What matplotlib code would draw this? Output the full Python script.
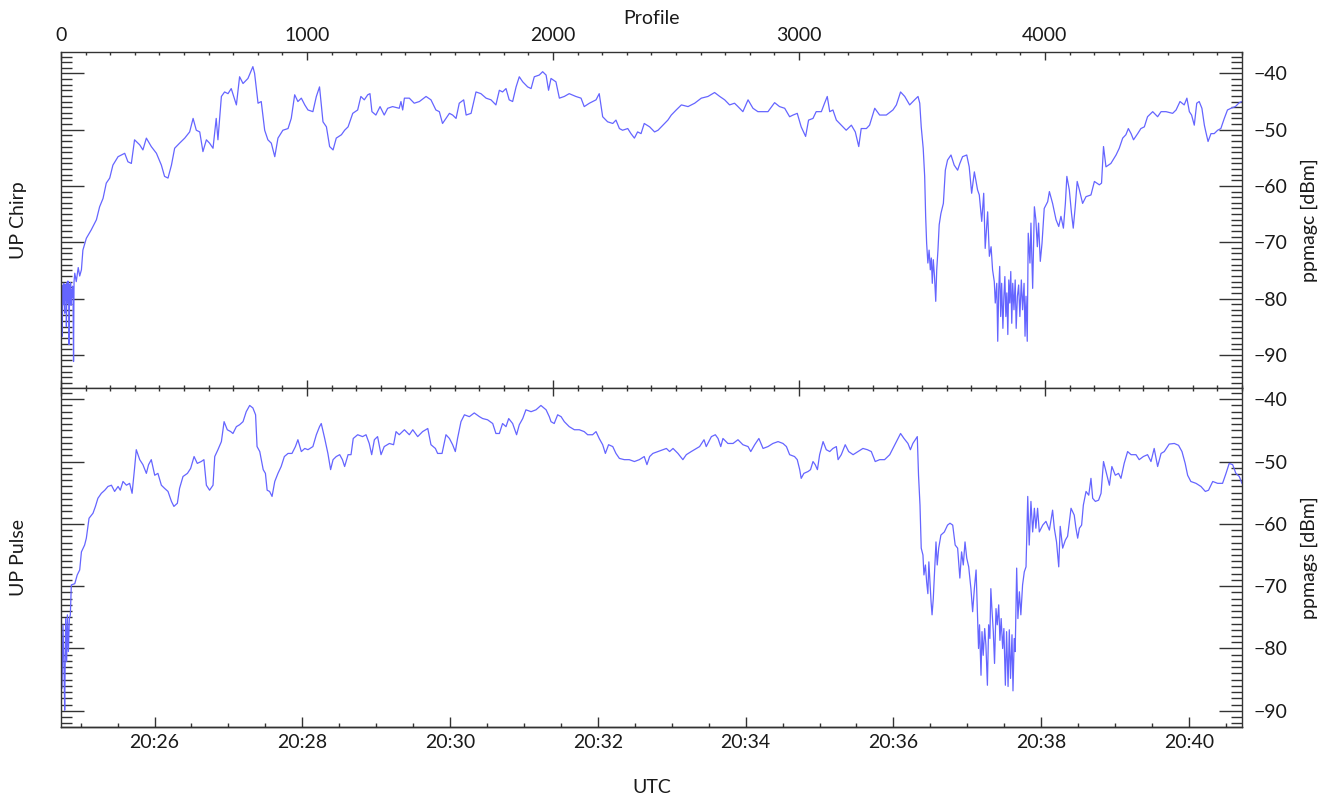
import matplotlib
matplotlib.use("Agg")
import matplotlib.pyplot as plt
from matplotlib.ticker import MultipleLocator, FuncFormatter

plt.rcParams['font.family'] = ['Lato', 'DejaVu Sans']
plt.rcParams['font.weight'] = 'normal'

# ---------------- data ----------------
chirp_profile = [0, 2, 4, 5, 7, 9, 11, 13, 15, 17, 19, 21, 22, 24, 26, 28, 30, 32, 33, 35,
                 37, 39, 41, 43, 45, 47, 49, 51, 53, 56, 62, 70, 76, 83,
                 89, 103, 123, 144, 157, 171, 184, 198, 211, 232, 259, 272, 286, 299, 320, 333,
                 347, 367, 388, 408, 421, 435, 449, 462, 482, 503, 523, 537, 550, 564, 577, 591,
                 604, 618, 631, 638, 652, 665, 679, 692, 713, 726, 740, 760, 780, 787, 801, 814,
                 828, 841, 855, 869, 882, 902, 923, 936, 950, 963, 977, 991, 1004, 1024, 1038,
                 1051, 1065, 1079, 1092, 1106, 1119, 1140, 1153, 1167,
                 1186, 1206, 1219, 1233, 1247, 1256, 1264, 1280, 1297, 1314, 1328, 1348, 1375,
                 1382, 1389, 1396, 1416, 1436, 1457, 1484, 1504, 1524, 1538, 1551, 1565, 1579,
                 1592, 1606, 1619, 1637, 1647, 1667, 1687, 1707, 1728, 1748, 1768, 1782, 1795,
                 1809, 1822, 1836, 1850, 1863, 1877, 1897, 1911, 1924, 1944, 1958, 1972, 1982,
                 1992, 2012, 2026, 2046, 2066, 2093, 2114, 2127, 2148, 2175, 2188, 2202, 2222,
                 2243, 2256, 2270, 2283, 2304, 2317, 2331, 2344, 2358, 2371,
                 2393, 2413, 2427, 2447, 2467, 2481, 2501, 2522, 2549, 2576, 2603, 2630, 2657,
                 2678, 2698, 2718, 2738, 2752, 2772, 2793, 2813, 2833, 2854, 2874, 2901, 2921,
                 2942, 2962, 2976, 2993, 3009, 3027, 3039, 3057, 3070, 3091, 3104, 3115, 3125,
                 3138, 3152, 3172, 3192, 3213, 3229, 3243, 3253, 3274, 3287, 3308, 3328, 3355,
                 3382, 3396, 3413, 3430, 3450, 3470, 3484, 3491, 3497, 3505, 3511, 3515, 3519,
                 3524, 3529, 3534, 3538, 3542, 3546, 3551, 3556, 3560, 3565,
                 3570, 3577, 3587, 3595, 3604, 3618, 3631, 3645, 3654, 3665, 3682, 3692, 3702,
                 3713, 3726, 3733, 3743, 3751, 3757, 3767, 3774, 3781, 3787, 3794, 3798, 3804,
                 3808, 3812, 3816, 3820, 3824, 3829, 3833, 3837, 3841, 3845, 3849, 3853, 3857,
                 3861, 3865, 3869, 3874, 3879, 3883, 3888, 3893, 3898, 3904, 3909, 3915, 3919,
                 3923, 3928, 3932, 3939, 3943, 3950, 3957, 3963, 3969, 3974, 3981, 3988, 3997,
                 4011, 4018, 4031, 4045, 4056, 4065, 4075, 4083, 4089, 4099, 4108, 4115, 4123,
                 4131, 4140, 4153, 4167, 4187, 4201, 4221, 4230, 4238, 4248, 4268, 4289, 4302,
                 4316, 4329, 4339, 4350, 4360, 4377, 4390, 4404, 4417, 4438, 4458, 4472, 4492,
                 4519, 4533, 4549, 4566, 4577, 4587, 4596, 4607, 4617, 4627, 4638, 4648, 4654,
                 4663, 4675, 4688, 4702, 4715, 4729, 4742, 4756, 4774, 4790, 4801]
chirp_dbm = [-77.2, -80.8, -77.6, -86.7, -78.0, -81.0, -77.3, -80.5, -82.6, -77.5, -80.2, -78.0,
             -85.0, -77.2, -80.6, -76.9, -81.0, -77.4, -88.2, -78.0, -80.4, -77.2, -81.2, -78.5,
             -79.8, -77.8, -80.0, -91.2, -77.0, -75.5, -77.0, -74.5, -76.0, -74.9,
             -71.4, -69.3, -67.8, -66.0, -63.7, -62.2, -59.5, -58.6, -56.3, -54.8, -54.2, -55.7,
             -56.0, -51.8, -52.7, -53.6, -51.5, -53.0, -54.2, -56.3, -58.3, -58.6, -56.3, -53.3,
             -52.4, -51.5, -50.4, -48.0, -50.1, -50.4, -53.9, -51.8, -52.4, -53.3, -48.0, -51.8,
             -44.1, -43.3, -43.6, -42.7, -45.6, -40.6, -41.8, -40.9, -38.8, -40.0, -45.3, -45.0,
             -50.1, -51.8, -52.4, -54.8, -51.5, -50.1, -49.8, -48.0, -43.8, -45.0, -44.4, -45.6,
             -46.5, -46.8, -44.1, -42.4, -48.6, -49.5, -53.0, -53.6, -51.5, -50.9, -50.1, -49.5,
             -47.1, -46.5, -44.1, -44.7, -43.8, -43.6, -46.8, -47.4, -45.9, -47.4, -46.2, -45.9,
             -46.2, -45.0, -46.5, -44.4, -44.4, -45.3, -45.0, -44.1, -44.7, -46.5, -46.8, -48.9,
             -48.0, -47.1, -47.4, -48.0, -45.3, -44.7, -47.4, -47.1, -43.3, -43.6, -44.4, -44.7,
             -45.6, -43.0, -43.3, -42.7, -44.7, -45.0, -42.4, -40.6, -41.5, -42.4, -42.7, -40.6,
             -40.3, -39.7, -40.3, -43.0, -40.9, -41.5, -44.4, -44.1, -43.6, -44.1, -44.4, -45.9,
             -45.3, -44.7, -43.6, -47.7, -48.6, -48.9, -48.3, -49.8, -50.1, -49.8, -50.7, -51.5,
             -50.4, -50.7, -48.9,
             -49.5, -50.4, -50.1, -49.2, -48.3, -47.4, -46.5, -45.6, -45.9, -45.3, -44.4, -44.1,
             -43.4, -44.1, -44.7, -45.6, -45.3, -45.9, -46.8, -44.7, -46.2, -46.8, -46.8, -46.8,
             -45.2, -45.9, -46.2, -47.7, -47.4, -47.1, -49.5, -51.2, -48.3, -48.0, -46.8, -46.8,
             -45.3, -44.1, -46.8, -46.5, -48.3, -49.2, -50.1, -49.2, -50.4, -53.0, -49.8, -49.8,
             -49.2, -46.2, -47.4, -47.4, -46.5, -45.6, -43.3, -44.1, -45.6, -44.7, -44.1, -45.3,
             -49.5, -53.3, -58.3, -65.4, -70.2, -73.7, -71.4, -74.9, -72.8, -77.3, -73.1, -76.1,
             -80.5, -74.9, -71.4,
             -66.9, -64.9, -63.1, -57.2, -55.4, -54.5, -56.3, -57.2, -56.0, -54.8, -54.5, -56.6,
             -61.3, -57.5, -60.7, -61.6, -66.3, -61.3, -71.1, -64.6, -72.5, -70.8, -74.9, -77.0,
             -80.8, -77.3, -87.6, -78.5, -74.3, -83.2, -77.3, -85.3, -79.6, -76.1, -83.2, -79.0,
             -86.4, -76.7, -80.8, -75.2, -84.4, -77.3, -82.0, -76.7, -85.3, -79.6, -77.6, -83.2,
             -76.7, -82.0, -77.3, -86.7, -79.6, -87.6, -68.4, -73.7, -66.6, -78.2, -63.7, -66.0,
             -70.8, -66.6, -73.4, -70.2, -64.0, -62.8, -61.0, -63.1, -66.0, -67.2, -65.4, -67.5,
             -63.1, -58.3, -60.7, -64.9, -67.5, -63.7, -59.2, -60.7, -63.1, -61.9, -61.6, -59.2,
             -59.8, -59.5, -53.0, -56.6, -56.0, -54.5, -53.3, -51.5, -50.9, -49.8, -50.7, -51.8,
             -50.7, -49.8, -49.5, -47.7, -46.8, -47.7, -46.8, -46.8, -47.1, -46.5, -45.0, -45.6,
             -44.4, -46.8, -47.4, -49.2, -45.3, -45.0, -46.2, -49.2, -50.4, -52.1, -50.7, -50.7,
             -50.1, -49.8, -48.0, -46.5, -46.2, -45.9, -45.2, -45.0]

pulse_profile = [0, 4, 8, 12, 15, 19, 23, 26, 30, 34, 38, 42,
                 56, 66, 76, 83, 96, 103, 114, 130, 140, 150, 164, 178, 191, 205, 218, 232, 241,
                 252, 266, 279, 289, 299, 306, 320, 333, 347, 356, 367, 381, 394, 408, 421, 435,
                 449, 459, 473, 482, 496, 514, 527, 541, 554, 570, 581, 591, 604, 618, 625, 638,
                 652, 663, 676, 690, 699, 713, 726, 740, 753, 767, 780, 791, 797, 808, 822, 831,
                 838, 848, 858, 869, 882, 895, 908, 923, 939, 953, 963, 977, 991, 1004, 1024,
                 1038, 1051, 1058, 1072, 1085, 1096, 1106, 1119, 1133, 1144, 1153, 1167,
                 1179, 1188, 1206, 1226, 1240, 1253, 1263, 1274, 1287, 1301, 1314, 1335, 1352,
                 1362, 1375, 1396, 1416, 1430, 1450, 1470, 1491, 1504, 1522, 1531, 1549, 1565,
                 1579, 1592, 1603, 1612, 1626, 1640, 1660, 1680, 1701, 1714, 1734, 1755, 1768,
                 1782, 1795, 1809, 1820, 1836, 1852, 1863, 1877, 1890, 1911, 1931, 1951, 1972,
                 1985, 1992, 2005, 2019, 2033, 2046, 2066, 2087, 2107, 2127, 2141, 2161, 2175,
                 2188, 2202, 2213, 2226, 2243, 2256, 2270, 2290, 2310, 2331, 2351, 2371, 2382,
                 2393, 2406, 2427, 2447, 2461, 2474, 2488, 2508, 2528, 2542, 2562, 2583, 2596,
                 2614, 2623, 2644, 2660, 2671, 2682, 2691, 2711, 2732, 2752, 2772, 2793, 2804,
                 2820, 2837, 2854, 2874, 2894, 2915, 2935, 2949, 2962, 2982, 2993, 3003, 3009,
                 3020, 3037, 3047, 3057, 3066, 3075, 3084, 3098, 3111, 3125, 3138, 3152, 3159,
                 3172, 3188, 3202, 3220, 3240, 3260, 3278, 3294, 3310, 3328, 3348, 3369, 3382,
                 3396, 3413, 3427, 3443, 3453, 3463, 3473, 3481, 3486, 3492, 3497, 3504, 3508,
                 3514, 3519, 3524, 3528, 3533, 3537, 3541, 3546, 3551, 3557, 3562, 3568,
                 3577, 3591, 3604, 3614, 3625, 3635, 3645, 3654, 3661, 3668, 3675, 3682, 3690,
                 3699, 3706, 3713, 3720, 3726, 3730, 3734, 3740, 3744, 3749, 3755, 3760, 3766,
                 3771, 3776, 3780, 3785, 3790, 3795, 3801, 3806, 3812, 3817, 3822, 3828, 3833,
                 3839, 3844, 3850, 3855, 3860, 3866, 3870, 3875, 3879, 3885, 3890, 3896, 3902,
                 3909, 3916, 3923, 3930, 3936, 3943, 3950, 3957, 3963, 3970, 3977, 3991, 4004,
                 4018, 4031, 4038, 4047, 4056, 4062, 4072, 4083, 4092, 4106, 4119, 4126, 4133,
                 4140, 4149, 4156, 4167, 4178, 4187, 4194, 4205, 4218, 4228, 4238, 4248, 4262,
                 4272, 4286, 4299, 4309, 4322, 4336, 4350, 4370, 4383, 4400, 4417, 4431, 4444,
                 4458, 4472, 4485, 4505, 4526, 4543, 4557, 4570, 4580, 4593, 4614, 4634, 4652,
                 4665, 4682, 4702, 4722, 4736, 4749, 4763, 4776, 4790, 4801]
pulse_dbm = [-78.9, -86.4, -76.2, -82.9, -89.9, -75.2, -82.1, -74.6, -80.5, -75.2, -74.6, -69.8,
             -69.6, -68.2, -67.4, -64.5, -63.4, -62.3, -59.1, -58.3, -57.2, -55.9, -55.1, -54.6,
             -54.0, -53.8, -54.8, -54.0, -54.6, -53.2, -53.8, -53.5, -55.1, -51.1, -48.1, -49.7,
             -50.5, -51.9, -50.5, -49.7, -52.2, -51.9, -53.8, -54.3, -54.8, -56.4, -57.2, -56.7,
             -54.3, -52.4, -51.9, -51.1, -49.2, -50.3, -50.0, -49.7, -53.8, -54.6, -53.8, -49.2,
             -48.1, -46.8, -43.6, -44.9, -45.2, -45.5, -44.4, -44.1, -43.6, -42.0, -41.0, -41.4,
             -42.5, -47.6, -48.4, -51.3, -51.9, -54.6, -54.8, -55.6, -53.2, -51.9, -50.8, -49.2,
             -48.7, -48.7, -47.6, -46.5, -48.4, -47.9, -48.1, -47.6, -45.7, -44.4, -43.9, -46.3,
             -48.7, -51.3, -49.7, -49.2, -48.9, -49.7, -50.8, -48.9,
             -48.9, -46.3, -45.7, -46.0, -45.7, -47.1, -48.9, -46.5, -46.0, -48.9, -47.6, -47.1,
             -47.3, -45.2, -45.7, -44.9, -45.7, -44.9, -46.0, -45.2, -44.7, -47.3, -47.9, -48.7,
             -48.7, -45.7, -46.3, -47.3, -48.4, -46.3, -43.6, -42.5, -42.8, -42.2, -42.8, -43.1,
             -43.3, -43.9, -45.5, -45.5, -43.9, -44.4, -43.1, -43.9, -45.7, -44.1, -43.1, -41.7,
             -42.0, -41.7, -41.0, -41.7, -42.8, -43.6, -43.9, -42.5, -42.8, -43.6, -44.4, -44.9,
             -44.9, -45.2, -45.7, -45.7, -45.2, -46.3, -47.3, -48.7, -47.3, -47.6, -48.7, -49.5,
             -49.7, -49.7, -50.0, -49.7, -49.2, -50.5,
             -49.2, -48.7, -48.4, -48.1, -47.9, -48.4, -47.9, -48.7, -49.7, -48.9, -48.4, -47.9,
             -47.6, -46.5, -47.6, -46.0, -45.7, -46.3, -47.6, -46.3, -47.1, -47.1, -46.5, -47.3,
             -47.6, -48.4, -47.3, -46.3, -47.9, -47.6, -47.1, -46.8, -47.1, -47.6, -48.9, -49.2,
             -49.7, -51.3, -52.7, -51.9, -51.6, -51.3, -50.0, -50.5, -51.3, -48.9, -46.8, -48.1,
             -48.4, -47.9, -47.6, -49.7, -48.9, -47.3, -48.4, -48.9, -48.4, -47.9, -48.1, -48.4,
             -50.0, -49.7, -49.7, -48.9, -47.9, -46.8, -45.5, -46.3, -47.1, -48.1, -47.1, -46.5,
             -46.0, -52.2, -57.0, -63.9, -65.0, -68.2, -66.6, -69.3, -71.2, -66.1, -69.8, -72.5,
             -74.6, -72.0, -67.7, -62.9, -66.6, -63.9,
             -61.8, -61.3, -60.2, -59.9, -60.2, -63.4, -63.9, -68.7, -64.5, -66.6, -62.9, -65.5,
             -66.9, -70.4, -74.1, -70.4, -67.4, -75.2, -80.0, -76.2, -84.3, -77.3, -81.1, -76.8,
             -79.5, -85.9, -76.2, -78.4, -70.4, -74.1, -77.3, -82.4, -73.6, -76.2, -73.0, -78.7,
             -75.2, -80.0, -76.8, -85.9, -77.3, -86.1, -77.0, -84.8, -77.8, -86.8, -78.4, -80.5,
             -67.1, -75.2, -70.9, -74.6, -69.8, -67.7, -66.9, -55.6, -63.4, -56.4, -61.3, -57.5,
             -60.7, -57.5, -61.3, -60.2, -59.6, -61.0, -57.8, -60.7, -62.9, -66.9, -60.4, -63.9,
             -62.6, -62.0, -57.5, -58.6, -60.7, -62.3, -60.7, -60.2, -57.0, -54.8, -55.4, -52.7,
             -55.9, -56.4, -56.2, -55.1, -50.0, -51.6, -53.8, -50.8, -52.2, -51.9, -52.7, -50.3,
             -48.4, -48.9, -48.9, -49.7, -49.2, -48.9, -50.0, -47.9, -50.8, -48.7, -48.4, -47.2,
             -47.1, -47.4, -48.4, -50.3, -52.2, -53.2, -53.5, -54.0, -54.8, -54.6, -53.2, -53.5,
             -53.5, -51.9, -50.3, -50.5, -51.9, -52.4, -53.5]

profile_ticks = [0, 1000, 2000, 3000, 4000]
time_ticks_min = [26, 28, 30, 32, 34, 36, 38, 40]   # minutes after 20:00
time_hour = 20
start_minute = 24.7346          # time of profile 0 (minutes after 20:00)
minutes_per_profile = 0.003329

x_max = 4801
ylim_top = (-95.9, -36.2)
ylim_bot = (-92.6, -38.2)

LINE_COLOR = '#6565ff'
TXT = '#1a1a1a'
FS = 14

fig = plt.figure(figsize=(13.35, 7.95), dpi=100)
left, width = 61 / 1335, (1242 - 61) / 1335
ax1 = fig.add_axes([left, (795 - 388) / 795, width, (388 - 52) / 795])
ax2 = fig.add_axes([left, (795 - 727) / 795, width, (727 - 388) / 795])

ax1.plot(chirp_profile, chirp_dbm, color=LINE_COLOR, lw=0.9)
ax2.plot(pulse_profile, pulse_dbm, color=LINE_COLOR, lw=0.9)

for ax, yl in ((ax1, ylim_top), (ax2, ylim_bot)):
    ax.set_xlim(0, x_max)
    ax.set_ylim(*yl)
    ax.xaxis.set_major_locator(MultipleLocator(1000))
    ax.xaxis.set_minor_locator(MultipleLocator(100))
    ax.yaxis.set_major_locator(MultipleLocator(10))
    ax.yaxis.set_minor_locator(MultipleLocator(1))
    ax.yaxis.set_label_position('right')
    ax.tick_params(axis='y', which='both', direction='in', left=True, right=True,
                   labelleft=False, labelright=True, labelsize=FS, labelcolor=TXT,
                   color='#333333', pad=8)
    ax.tick_params(axis='y', which='major', length=16.5, width=1.0)
    ax.tick_params(axis='y', which='minor', length=8, width=1.0)
    for s in ax.spines.values():
        s.set_linewidth(1.0)
        s.set_color('#333333')

ax1.tick_params(axis='x', which='both', direction='in', top=True, bottom=True,
                labeltop=True, labelbottom=False, labelsize=FS, labelcolor=TXT,
                color='#333333', pad=6)
ax1.tick_params(axis='x', which='major', length=5.5, width=1.0)
ax1.tick_params(axis='x', which='minor', length=2.5, width=1.0)
ax1.set_xticks(profile_ticks)
ax1.xaxis.set_label_position('top')
ax1.set_xlabel('Profile', fontsize=FS, color=TXT, labelpad=2)

ax2.tick_params(axis='x', which='both', direction='in', top=True, bottom=False,
                labeltop=False, labelbottom=False, color='#333333')
ax2.tick_params(axis='x', which='major', length=5.5, width=1.0)
ax2.tick_params(axis='x', which='minor', length=2.5, width=1.0)


def p2m(p):
    return start_minute + p * minutes_per_profile


def m2p(m):
    return (m - start_minute) / minutes_per_profile


sec = ax2.secondary_xaxis('bottom', functions=(p2m, m2p))
sec.set_xticks(time_ticks_min)
sec.xaxis.set_minor_locator(MultipleLocator(0.5))
sec.xaxis.set_major_formatter(FuncFormatter(lambda m, _: f"{time_hour}:{int(round(m)):02d}"))
sec.tick_params(axis='x', which='both', direction='in', labelsize=FS, labelcolor=TXT,
                color='#333333', pad=5)
sec.tick_params(axis='x', which='major', length=7.5, width=1.0)
sec.tick_params(axis='x', which='minor', length=3, width=1.0)
sec.spines['bottom'].set_linewidth(1.0)
sec.set_xlabel('UTC', fontsize=FS, color=TXT, labelpad=20)

ax1.set_ylabel('ppmagc [dBm]', fontsize=FS, color=TXT, rotation=90, labelpad=10)
ax2.set_ylabel('ppmags [dBm]', fontsize=FS, color=TXT, rotation=90, labelpad=10)
ax1.text(-0.036, 0.5, 'UP Chirp', transform=ax1.transAxes, rotation=90,
         ha='center', va='center', fontsize=FS, color=TXT)
ax2.text(-0.036, 0.5, 'UP Pulse', transform=ax2.transAxes, rotation=90,
         ha='center', va='center', fontsize=FS, color=TXT)

fig.savefig('out.png', dpi=100)
